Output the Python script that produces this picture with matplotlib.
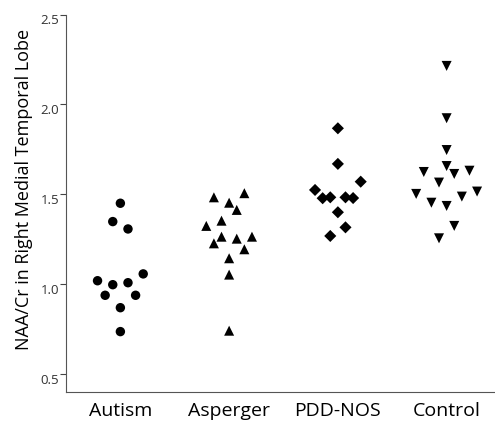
import matplotlib.pyplot as plt
import numpy as np

plt.rcParams['font.family'] = ['Open Sans', 'DejaVu Sans']

groups = ["Autism", "Asperger", "PDD-NOS", "Control"]
markers = ["o", "^", "D", "v"]

# values, with the horizontal stacking offset (in steps)
autism = [1.450, 1.348, 1.307, 1.057, 1.019, 0.997, 1.008, 0.938, 0.938, 0.869, 0.736]
autism_off = [0, -1, 1, 3, -3, -1, 1, -2, 2, 0, 0]

asperger = [1.506, 1.483, 1.453, 1.413, 1.353, 1.324, 1.264, 1.253, 1.264, 1.227, 1.194, 1.144, 1.053, 0.741]
asperger_off = [2, -2, 0, 1, -1, -3, -1, 1, 3, -2, 2, 0, 0, 0]

pddnos = [1.867, 1.669, 1.570, 1.524, 1.478, 1.483, 1.483, 1.479, 1.400, 1.316, 1.268]
pddnos_off = [0, 0, 3, -3, -2, -1, 1, 2, 0, 1, -1]

control = [2.214, 1.923, 1.746, 1.657, 1.613, 1.631, 1.624, 1.565, 1.502, 1.515, 1.453, 1.487, 1.435, 1.324, 1.255]
control_off = [0, 0, 0, 0, 1, 3, -3, -1, -4, 4, -2, 2, 0, 1, -1]

values = [autism, asperger, pddnos, control]
offsets = [autism_off, asperger_off, pddnos_off, control_off]
step = 0.07

fig = plt.figure(figsize=(4.95, 4.21), dpi=100)
ax = fig.add_axes([66/495, 29/421, 435/495, 377.5/421])

for i, (v, o, m) in enumerate(zip(values, offsets, markers)):
    x = i + 1 + np.array(o) * step
    ms = 46 if m == "o" else (38 if m == "D" else 52)
    ax.scatter(x, v, marker=m, s=ms, color="black", edgecolors="none")

ax.set_xlim(0.5, 4.5)
ax.set_ylim(0.40, 2.5)
ax.set_yticks([0.5, 1.0, 1.5, 2.0, 2.5])
ax.set_yticklabels(["0.5", "1.0", "1.5", "2.0", "2.5"])
ax.set_xticks([1, 2, 3, 4])
ax.set_xticklabels(groups, fontsize=14)
ax.tick_params(axis="x", length=0, pad=7.5)
ax.tick_params(axis="y", length=4, width=0.8, color="#444444", labelsize=9.5,
               labelcolor="#333333", pad=1)
for t in ax.get_yticklabels():
    t.set_verticalalignment("top")
ax.spines["top"].set_visible(False)
ax.spines["right"].set_visible(False)
ax.spines["left"].set_color("#555555")
ax.spines["bottom"].set_color("#555555")
ax.set_ylabel("NAA/Cr in Right Medial Temporal Lobe", fontsize=13)
ax.yaxis.set_label_coords(-33/435, (392 - 189) / 377.5)

fig.savefig("out.png", dpi=100)
